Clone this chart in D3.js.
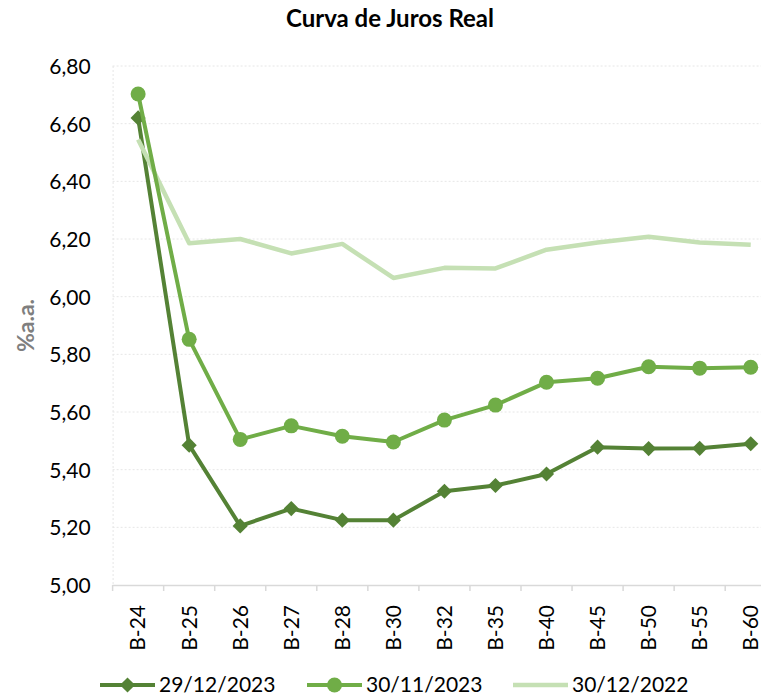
<!DOCTYPE html>
<html>
<head>
<meta charset="utf-8">
<script src="https://cdn.jsdelivr.net/npm/d3@7"></script>
<style>
  html, body { margin: 0; padding: 0; background: #fff; }
  svg { display: block; font-family: Lato, "Open Sans", sans-serif; }
</style>
</head>
<body>
<svg id="chart" width="761" height="695"></svg>
<script>
// Vértices da curva (NTN-B)
const categories = ["B-24", "B-25", "B-26", "B-27", "B-28", "B-30", "B-32", "B-35", "B-40", "B-45", "B-50", "B-55", "B-60"];

// Taxas reais em % a.a.
const serie20231229 = [6.62, 5.485, 5.205, 5.265, 5.225, 5.225, 5.325, 5.345, 5.385, 5.478, 5.473, 5.474, 5.49];
const serie20231130 = [6.703, 5.852, 5.505, 5.552, 5.516, 5.496, 5.572, 5.624, 5.703, 5.717, 5.757, 5.752, 5.755];
const serie20221230 = [6.545, 6.185, 6.2, 6.15, 6.183, 6.065, 6.1, 6.098, 6.163, 6.188, 6.208, 6.188, 6.18];

const seriesNames = ["29/12/2023", "30/11/2023", "30/12/2022"];
const yTicks = [5.0, 5.2, 5.4, 5.6, 5.8, 6.0, 6.2, 6.4, 6.6, 6.8];

const colors = { dark: "#548235", mid: "#70ad47", light: "#c5e0b4" };

const svg = d3.select("#chart");
const plotLeft = 112.6, plotTop = 66, plotBottom = 585, bandW = 51.05;
const plotRight = plotLeft + bandW * categories.length;

const x = d3.scaleBand().domain(categories).range([plotLeft, plotRight]).paddingInner(0).paddingOuter(0);
const y = d3.scaleLinear().domain([5.0, 6.8]).range([plotBottom, plotTop]);
const fmt = v => d3.format(".2f")(v).replace(".", ",");

// Grade horizontal pontilhada
svg.append("g").selectAll("line")
  .data(yTicks.filter(t => t > 5.0))
  .join("line")
  .attr("x1", plotLeft).attr("x2", plotRight)
  .attr("y1", d => y(d)).attr("y2", d => y(d))
  .attr("stroke", "#e6e6e6").attr("stroke-width", 1)
  .attr("stroke-dasharray", "2,2");

// Linha vertical esquerda pontilhada
svg.append("line")
  .attr("x1", plotLeft + 0.5).attr("x2", plotLeft + 0.5)
  .attr("y1", plotTop).attr("y2", plotBottom)
  .attr("stroke", "#e6e6e6").attr("stroke-dasharray", "2,2");

// Eixo Y (somente rótulos)
const yAxis = d3.axisLeft(y).tickValues(yTicks).tickFormat(fmt).tickSize(0).tickPadding(0);
const gy = svg.append("g").attr("transform", `translate(${plotLeft - 22},0)`).call(yAxis);
gy.select(".domain").remove();
gy.selectAll("text").attr("font-size", 21).attr("fill", "#000").attr("font-family", "Lato, sans-serif").attr("dy", "0.35em");

// Eixo X com marcas entre categorias
svg.append("line")
  .attr("x1", plotLeft).attr("x2", plotRight)
  .attr("y1", plotBottom + 0.5).attr("y2", plotBottom + 0.5)
  .attr("stroke", "#d9d9d9").attr("stroke-width", 1.5);
svg.append("g").selectAll("line")
  .data(d3.range(categories.length + 1))
  .join("line")
  .attr("x1", i => plotLeft + i * bandW).attr("x2", i => plotLeft + i * bandW)
  .attr("y1", plotBottom).attr("y2", plotBottom + 6)
  .attr("stroke", "#d9d9d9").attr("stroke-width", 1.5);

const xAxis = d3.axisBottom(x).tickSize(0).tickPadding(0);
const gx = svg.append("g").attr("transform", `translate(0,${plotBottom})`).call(xAxis);
gx.select(".domain").remove();
gx.selectAll("text")
  .attr("font-size", 21).attr("fill", "#000").attr("font-family", "Lato, sans-serif")
  .attr("transform", "rotate(-90)")
  .attr("text-anchor", "end")
  .attr("x", -20).attr("y", 0).attr("dy", "0.35em");

// Título do eixo Y
svg.append("text")
  .attr("transform", `translate(34,${(plotTop + plotBottom) / 2}) rotate(-90)`)
  .attr("text-anchor", "middle")
  .attr("font-size", 23).attr("font-weight", "bold").attr("fill", "#7f7f7f")
  .text("%a.a.");

// Título
svg.append("text")
  .attr("x", 390).attr("y", 27)
  .attr("text-anchor", "middle")
  .attr("font-size", 24).attr("font-weight", "bold").attr("fill", "#000")
  .text("Curva de Juros Real");

const cx = i => x(categories[i]) + x.bandwidth() / 2;
const line = d3.line().x((d, i) => cx(i)).y(d => y(d));
// Losango: quadrado girado 45°
const diamond = d3.symbol().type(d3.symbolSquare).size(115);

// 29/12/2023
svg.append("path").datum(serie20231229).attr("d", line)
  .attr("fill", "none").attr("stroke", colors.dark).attr("stroke-width", 4).attr("stroke-linejoin", "round");
svg.append("g").selectAll("path").data(serie20231229).join("path")
  .attr("d", diamond)
  .attr("transform", (d, i) => `translate(${cx(i)},${y(d)}) rotate(45)`)
  .attr("fill", colors.dark);

// 30/12/2022
svg.append("path").datum(serie20221230).attr("d", line)
  .attr("fill", "none").attr("stroke", colors.light).attr("stroke-width", 4.5).attr("stroke-linejoin", "round");

// 30/11/2023
svg.append("path").datum(serie20231130).attr("d", line)
  .attr("fill", "none").attr("stroke", colors.mid).attr("stroke-width", 4).attr("stroke-linejoin", "round");
svg.append("g").selectAll("circle").data(serie20231130).join("circle")
  .attr("cx", (d, i) => cx(i)).attr("cy", d => y(d)).attr("r", 7.5)
  .attr("fill", colors.mid);

// Legenda
const legendY = 685;
const legendItems = [
  { name: seriesNames[0], color: colors.dark, marker: "diamond", x0: 100 },
  { name: seriesNames[1], color: colors.mid, marker: "circle", x0: 307 },
  { name: seriesNames[2], color: colors.light, marker: null, x0: 513 }
];
const lg = svg.append("g").selectAll("g").data(legendItems).join("g")
  .attr("transform", d => `translate(${d.x0},${legendY})`);
lg.append("line").attr("x1", 0).attr("x2", 55).attr("y1", 0).attr("y2", 0)
  .attr("stroke", d => d.color).attr("stroke-width", d => d.marker ? 4 : 4.5);
lg.filter(d => d.marker === "diamond").append("path")
  .attr("d", diamond).attr("transform", "translate(27.5,0) rotate(45)").attr("fill", d => d.color);
lg.filter(d => d.marker === "circle").append("circle")
  .attr("cx", 27.5).attr("cy", 0).attr("r", 7.5).attr("fill", d => d.color);
lg.append("text").attr("x", 59).attr("y", 0).attr("dy", "0.35em")
  .attr("font-size", 21).attr("fill", "#000")
  .text(d => d.name);
</script>
</body>
</html>
